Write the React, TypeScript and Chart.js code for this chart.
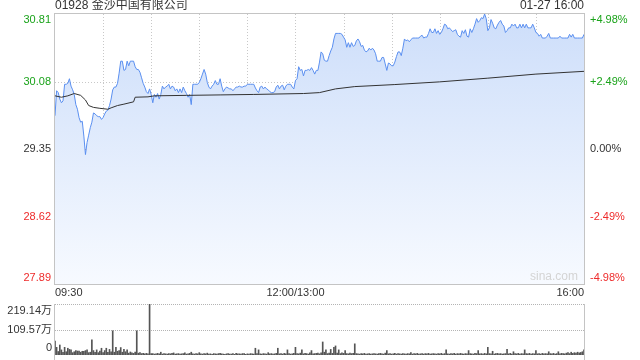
import React, { useEffect, useRef } from "react";
import { Chart, registerables } from "chart.js";
Chart.register(...registerables);

const TITLE = "01928 金沙中国有限公司";
const STAMP = "01-27 16:00";
const WATERMARK = "sina.com";
const PREV_CLOSE = 29.35;
const PRICE_TICKS = [30.81, 30.08, 29.35, 28.62, 27.89];
const PRICE_TICK_LABELS = ["30.81", "30.08", "29.35", "28.62", "27.89"];
const PCT_TICK_LABELS = ["+4.98%", "+2.49%", "0.00%", "-2.49%", "-4.98%"];
const TIME_LABELS = ["09:30", "12:00/13:00", "16:00"];
const TIME_LABEL_MIN = [0, 150, 330];
const VGRID_MIN = [30, 60, 90, 120, 150, 180, 210, 240, 270, 300];
const VOL_TICKS = [219.14, 109.57, 0];
const VOL_TICK_LABELS = ["219.14万", "109.57万", "0"];
const TOTAL_MIN = 330;

// price per minute (index = minutes since 09:30, lunch removed)
const prices = [
  29.71, 29.98, 29.96, 29.89, 29.85, 29.87, 30.05, 30.05, 30.06, 30.11,
  30.03, 29.99, 29.94, 29.83, 29.78, 29.69, 29.64, 29.65, 29.49, 29.29,
  29.42, 29.50, 29.58, 29.64, 29.74, 29.73, 29.71, 29.70, 29.70, 29.67,
  29.69, 29.73, 29.76, 29.77, 29.82, 29.89, 29.99, 30.02, 30.02, 30.06,
  30.17, 30.30, 30.30, 30.20, 30.21, 30.30, 30.25, 30.30, 30.30, 30.30,
  30.24, 30.21, 30.21, 30.18, 30.12, 30.06, 30.02, 29.97, 29.95, 30.00,
  29.94, 29.85, 29.94, 29.91, 29.95, 29.89, 29.94, 30.03, 30.00, 30.02,
  30.03, 30.05, 30.00, 30.03, 30.02, 29.98, 30.00, 29.96, 30.00, 29.96,
  30.02, 29.98, 29.95, 29.91, 29.94, 29.83, 30.05, 30.05, 30.05, 30.05,
  30.07, 30.11, 30.16, 30.21, 30.16, 30.07, 30.02, 30.00, 30.03, 30.05,
  30.09, 30.05, 30.05, 30.11, 30.03, 29.97, 30.00, 30.02, 30.01, 30.00,
  30.00, 29.98, 30.00, 30.02, 30.02, 30.03, 30.02, 30.02, 30.03, 30.03,
  30.05, 30.05, 30.05, 30.05, 30.05, 30.01, 29.98, 29.96, 30.02, 30.03,
  30.00, 30.02, 30.00, 29.99, 29.97, 29.96, 29.96, 29.97, 30.02, 30.04,
  30.00, 30.03, 30.04, 29.99, 30.03, 30.05, 30.05, 30.05, 30.02, 30.00,
  30.09, 30.11, 30.24, 30.20, 30.21, 30.14, 30.20, 30.20, 30.21, 30.20,
  30.23, 30.20, 30.16, 30.20, 30.20, 30.29, 30.40, 30.38, 30.31, 30.30,
  30.30, 30.36, 30.41, 30.45, 30.54, 30.60, 30.60, 30.60, 30.60, 30.59,
  30.56, 30.53, 30.45, 30.50, 30.45, 30.50, 30.46, 30.47, 30.52, 30.54,
  30.51, 30.46, 30.47, 30.42, 30.40, 30.41, 30.44, 30.42, 30.44, 30.42,
  30.38, 30.30, 30.30, 30.30, 30.34, 30.34, 30.27, 30.20, 30.28, 30.27,
  30.25, 30.25, 30.29, 30.35, 30.40, 30.40, 30.36, 30.44, 30.54, 30.52,
  30.53, 30.51, 30.53, 30.55, 30.55, 30.55, 30.55, 30.55, 30.57, 30.58,
  30.55, 30.56, 30.56, 30.60, 30.65, 30.61, 30.61, 30.65, 30.60, 30.63,
  30.59, 30.61, 30.65, 30.70, 30.69, 30.65, 30.66, 30.64, 30.62, 30.63,
  30.64, 30.59, 30.57, 30.56, 30.63, 30.60, 30.64, 30.57, 30.56, 30.65,
  30.61, 30.65, 30.70, 30.76, 30.72, 30.74, 30.77, 30.76, 30.81, 30.76,
  30.63, 30.66, 30.75, 30.71, 30.66, 30.65, 30.69, 30.72, 30.74, 30.70,
  30.68, 30.61, 30.63, 30.66, 30.66, 30.70, 30.68, 30.70, 30.66, 30.66,
  30.70, 30.66, 30.70, 30.66, 30.70, 30.66, 30.66, 30.66, 30.70, 30.66,
  30.61, 30.60, 30.57, 30.59, 30.55, 30.55, 30.55, 30.57, 30.60, 30.55,
  30.55, 30.55, 30.55, 30.55, 30.55, 30.57, 30.55, 30.55, 30.55, 30.55,
  30.55, 30.59, 30.56, 30.59, 30.55, 30.55, 30.55, 30.55, 30.55, 30.55,
  30.59,
];

// average price line, read at key minutes
const avgMinutes = [0, 4, 8, 12, 16, 19, 21, 24, 28, 33, 35, 39, 43, 49, 50, 58, 62, 82, 103, 124, 155, 165, 175, 187, 212, 240, 270, 300, 330];
const avgValues = [29.925, 29.91, 29.925, 29.95, 29.93, 29.88, 29.82, 29.8, 29.79, 29.78, 29.795, 29.82, 29.835, 29.86, 29.91, 29.914, 29.925, 29.93, 29.935, 29.94, 29.95, 29.96, 30.0, 30.025, 30.047, 30.076, 30.116, 30.16, 30.19];

// volume per minute, in 万
const volumes = [
  60, 33, 15, 43, 22, 12, 33, 14, 29, 24,
  22, 10, 14, 19, 17, 17, 12, 16, 16, 19,
  22, 10, 12, 65, 19, 12, 22, 10, 17, 29,
  10, 19, 29, 12, 24, 14, 104, 12, 33, 16,
  19, 32, 12, 24, 14, 22, 8, 13, 9, 7,
  13, 104, 8, 10, 6, 7, 5, 7, 5, 219,
  6, 6, 4, 5, 7, 5, 12, 4, 6, 5,
  4, 6, 5, 7, 9, 4, 5, 6, 4, 5,
  6, 9, 4, 5, 7, 12, 5, 4, 6, 5,
  10, 5, 4, 6, 5, 8, 4, 5, 3, 6,
  5, 4, 6, 7, 5, 4, 3, 5, 6, 4,
  4, 6, 3, 7, 5, 5, 4, 6, 6, 3,
  5, 4, 6, 5, 4, 29, 6, 22, 5, 4,
  6, 5, 4, 10, 5, 6, 4, 5, 7, 29,
  5, 6, 4, 7, 5, 22, 6, 4, 5, 7,
  33, 6, 5, 8, 22, 5, 7, 6, 4, 9,
  19, 5, 6, 7, 8, 5, 9, 56, 12, 22,
  6, 8, 24, 7, 33, 39, 8, 22, 6, 9,
  7, 19, 6, 5, 8, 6, 7, 48, 6, 5,
  4, 6, 5, 7, 4, 5, 6, 4, 5, 6,
  5, 4, 6, 7, 5, 4, 8, 19, 5, 6,
  4, 5, 7, 4, 6, 5, 4, 6, 5, 4,
  6, 5, 10, 4, 6, 5, 7, 4, 5, 6,
  4, 6, 5, 7, 4, 5, 6, 5, 4, 6,
  5, 7, 4, 6, 22, 5, 4, 6, 5, 7,
  4, 6, 5, 7, 5, 4, 6, 5, 19, 6,
  5, 4, 7, 6, 19, 5, 6, 4, 7, 5,
  33, 6, 5, 16, 4, 6, 7, 5, 6, 4,
  5, 6, 24, 5, 7, 4, 14, 6, 5, 7,
  4, 6, 5, 22, 6, 5, 7, 4, 6, 5,
  19, 5, 6, 4, 7, 5, 6, 5, 14, 6,
  5, 7, 4, 6, 14, 5, 7, 6, 5, 8,
  10, 6, 12, 7, 10, 8, 12, 9, 11, 14,
  22,
];

const FONT = 'Arial, "Liberation Sans", "Noto Sans CJK SC", sans-serif';
const GREEN = "#1aa31a";
const RED = "#ee2b2b";
const TEXT = "#333333";
const GRID = "#c8c8c8";
const BORDER = "#c4c4c4";

function labelColor(v: number) {
  if (Math.abs(v - PREV_CLOSE) < 1e-6) return TEXT;
  return v > PREV_CLOSE ? GREEN : RED;
}

const pricePlugin = {
  id: "priceDeco",
  beforeDatasetsDraw(chart: any) {
    const { ctx, chartArea: a, scales } = chart;
    const x = scales.x, y = scales.y;
    ctx.save();
    ctx.lineWidth = 1;
    ctx.strokeStyle = GRID;
    ctx.setLineDash([1, 2]);
    VGRID_MIN.forEach((m) => {
      const px = Math.round(x.getPixelForValue(m)) + 0.5;
      ctx.beginPath();
      ctx.moveTo(px, a.top);
      ctx.lineTo(px, a.bottom);
      ctx.stroke();
    });
    PRICE_TICKS.slice(1, -1).forEach((v) => {
      const py = Math.round(y.getPixelForValue(v)) + 0.5;
      if (Math.abs(v - PREV_CLOSE) < 1e-6) {
        ctx.strokeStyle = "#e99a7c";
        ctx.setLineDash([3, 3]);
      } else {
        ctx.strokeStyle = GRID;
        ctx.setLineDash([1, 2]);
      }
      ctx.beginPath();
      ctx.moveTo(a.left, py);
      ctx.lineTo(a.right, py);
      ctx.stroke();
    });
    ctx.restore();
  },
  afterDraw(chart: any) {
    const { ctx, chartArea: a, scales } = chart;
    const x = scales.x, y = scales.y;
    ctx.save();
    ctx.strokeStyle = BORDER;
    ctx.lineWidth = 1;
    ctx.setLineDash([]);
    ctx.strokeRect(Math.round(a.left) - 0.5, Math.round(a.top) - 0.5, Math.round(a.right - a.left) + 1, Math.round(a.bottom - a.top) + 1);
    ctx.font = `12px ${FONT}`;
    ctx.fillStyle = "#d4d4d4";
    ctx.textAlign = "right";
    ctx.textBaseline = "middle";
    ctx.fillText(WATERMARK, a.right - 6, a.bottom - 7);
    ctx.fillStyle = TEXT;
    ctx.font = `12px ${FONT}`;
    ctx.textAlign = "left";
    ctx.fillText(TITLE, a.left, 6);
    ctx.textAlign = "right";
    ctx.fillText(STAMP, a.right, 6);
    ctx.font = `11px ${FONT}`;
    PRICE_TICKS.forEach((v, i) => {
      let py = y.getPixelForValue(v);
      if (i === 0) py += 6;
      if (i === PRICE_TICKS.length - 1) py -= 6;
      ctx.fillStyle = labelColor(v);
      ctx.textAlign = "right";
      ctx.fillText(PRICE_TICK_LABELS[i], a.left - 4, py);
      ctx.textAlign = "left";
      ctx.fillText(PCT_TICK_LABELS[i], a.right + 6, py);
    });
    ctx.fillStyle = TEXT;
    TIME_LABELS.forEach((t, i) => {
      const px = x.getPixelForValue(TIME_LABEL_MIN[i]);
      ctx.textAlign = i === 0 ? "left" : i === TIME_LABELS.length - 1 ? "right" : "center";
      ctx.fillText(t, px, a.bottom + 9);
    });
    ctx.restore();
  },
};

const volPlugin = {
  id: "volDeco",
  beforeDatasetsDraw(chart: any) {
    const { ctx, chartArea: a, scales } = chart;
    const y = scales.y;
    ctx.save();
    ctx.lineWidth = 1;
    ctx.strokeStyle = "#b4b4b4";
    ctx.setLineDash([1, 1]);
    VOL_TICKS.slice(0, -1).forEach((v) => {
      const py = Math.round(y.getPixelForValue(v)) + 0.5;
      ctx.beginPath();
      ctx.moveTo(a.left, py);
      ctx.lineTo(a.right, py);
      ctx.stroke();
    });
    ctx.setLineDash([]);
    ctx.strokeStyle = BORDER;
    [a.left - 0.5, a.right + 0.5].forEach((px) => {
      ctx.beginPath();
      ctx.moveTo(Math.round(px - 0.5) + 0.5, a.top);
      ctx.lineTo(Math.round(px - 0.5) + 0.5, a.bottom + 5);
      ctx.stroke();
    });
    ctx.restore();
  },
  afterDraw(chart: any) {
    const { ctx, chartArea: a, scales } = chart;
    const y = scales.y;
    ctx.save();
    ctx.font = `11px ${FONT}`;
    ctx.fillStyle = TEXT;
    ctx.textAlign = "right";
    ctx.textBaseline = "middle";
    VOL_TICKS.forEach((v, i) => {
      let py = y.getPixelForValue(v);
      if (i === 0) py += 7;
      if (i === VOL_TICKS.length - 1) py -= 7;
      ctx.fillText(VOL_TICK_LABELS[i], a.left - 3, py);
    });
    ctx.restore();
  },
};

export default function App() {
  const priceRef = useRef<HTMLCanvasElement>(null);
  const volRef = useRef<HTMLCanvasElement>(null);

  useEffect(() => {
    const priceData = prices.map((p, i) => ({ x: i, y: p }));
    const avgData = avgMinutes.map((m, i) => ({ x: m, y: avgValues[i] }));
    const volData = volumes.map((v, i) => ({ x: i, y: v }));

    const priceChart = new Chart(priceRef.current as HTMLCanvasElement, {
      type: "line",
      data: {
        datasets: [
          {
            data: avgData,
            borderColor: "#333333",
            borderWidth: 1,
            pointRadius: 0,
            fill: false,
            tension: 0,
          },
          {
            data: priceData,
            borderColor: "#5a8ff0",
            borderWidth: 1,
            pointRadius: 0,
            tension: 0,
            fill: "start",
            backgroundColor: (ctx: any) => {
              const area = ctx.chart.chartArea;
              if (!area) return "rgba(210,225,250,0.8)";
              const g = ctx.chart.ctx.createLinearGradient(0, area.top, 0, area.bottom);
              g.addColorStop(0, "rgb(205,222,250)");
              g.addColorStop(1, "rgb(247,250,255)");
              return g;
            },
          },
        ],
      },
      options: {
        animation: false,
        responsive: false,
        devicePixelRatio: 1,
        layout: { padding: { left: 55, right: 56, top: 14, bottom: 16 } },
        plugins: { legend: { display: false }, tooltip: { enabled: false } },
        scales: {
          x: { type: "linear", min: 0, max: TOTAL_MIN, display: false },
          y: { type: "linear", min: PRICE_TICKS[PRICE_TICKS.length - 1], max: PRICE_TICKS[0], display: false },
        },
      },
      plugins: [pricePlugin],
    } as any);

    const volChart = new Chart(volRef.current as HTMLCanvasElement, {
      type: "bar",
      data: {
        datasets: [
          {
            data: volData,
            backgroundColor: "#555555",
            barThickness: 1,
            borderWidth: 0,
          },
        ],
      },
      options: {
        animation: false,
        responsive: false,
        devicePixelRatio: 1,
        layout: { padding: { left: 55, right: 56, top: 4, bottom: 5 } },
        plugins: { legend: { display: false }, tooltip: { enabled: false } },
        scales: {
          x: { type: "linear", min: 0, max: TOTAL_MIN, display: false, offset: false },
          y: { type: "linear", min: 0, max: VOL_TICKS[0], display: false },
        },
      },
      plugins: [volPlugin],
    } as any);

    return () => {
      priceChart.destroy();
      volChart.destroy();
    };
  }, []);

  return (
    <div style={{ position: "fixed", left: 0, top: 0, width: 640, height: 360, background: "#fff" }}>
      <canvas ref={priceRef} width={640} height={300} style={{ display: "block", width: 640, height: 300 }} />
      <canvas ref={volRef} width={640} height={60} style={{ display: "block", width: 640, height: 60 }} />
    </div>
  );
}
